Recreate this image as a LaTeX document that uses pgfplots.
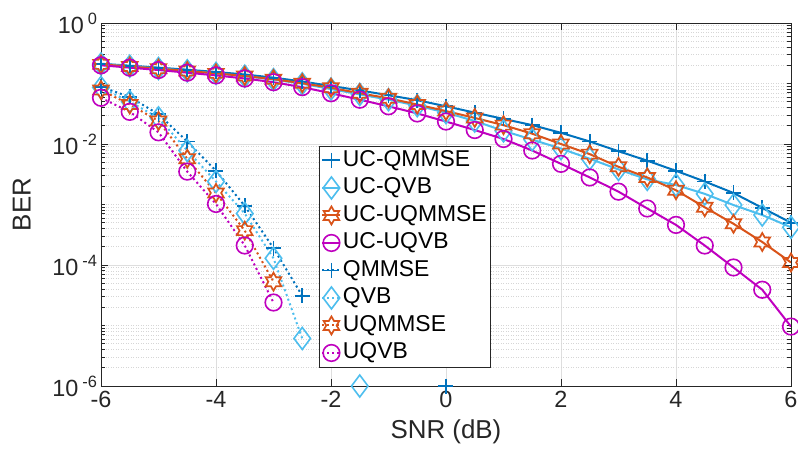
\documentclass[border=0pt]{standalone}
\usepackage{fontspec}
\setmainfont{Liberation Sans}
\usepackage{pgfplots}
\pgfplotsset{compat=1.18}
\definecolor{cQM}{rgb}{0,0.447,0.741}
\definecolor{cQV}{rgb}{0.302,0.745,0.933}
\definecolor{cUQM}{rgb}{0.85,0.325,0.098}
\definecolor{cUQV}{rgb}{0.75,0,0.75}
\definecolor{axgray}{rgb}{0.15,0.15,0.15}
\pgfdeclareplotmark{hexagram}{%
  \pgfpathmoveto{\pgfpointpolar{90}{\pgfplotmarksize}}%
  \pgfpathlineto{\pgfpointpolar{120}{0.577\pgfplotmarksize}}%
  \pgfpathlineto{\pgfpointpolar{150}{\pgfplotmarksize}}%
  \pgfpathlineto{\pgfpointpolar{180}{0.577\pgfplotmarksize}}%
  \pgfpathlineto{\pgfpointpolar{210}{\pgfplotmarksize}}%
  \pgfpathlineto{\pgfpointpolar{240}{0.577\pgfplotmarksize}}%
  \pgfpathlineto{\pgfpointpolar{270}{\pgfplotmarksize}}%
  \pgfpathlineto{\pgfpointpolar{300}{0.577\pgfplotmarksize}}%
  \pgfpathlineto{\pgfpointpolar{330}{\pgfplotmarksize}}%
  \pgfpathlineto{\pgfpointpolar{0}{0.577\pgfplotmarksize}}%
  \pgfpathlineto{\pgfpointpolar{30}{\pgfplotmarksize}}%
  \pgfpathlineto{\pgfpointpolar{60}{0.577\pgfplotmarksize}}%
  \pgfpathclose
  \pgfusepathqstroke
}
\pgfdeclareplotmark{tdiamond}{%
  \pgfpathmoveto{\pgfqpoint{0pt}{\pgfplotmarksize}}%
  \pgfpathlineto{\pgfqpoint{0.75\pgfplotmarksize}{0pt}}%
  \pgfpathlineto{\pgfqpoint{0pt}{-\pgfplotmarksize}}%
  \pgfpathlineto{\pgfqpoint{-0.75\pgfplotmarksize}{0pt}}%
  \pgfpathclose
  \pgfusepathqstroke
}
\pgfplotsset{
  solidc/.style={solid, line width=2bp},
  dotc/.style={line width=2bp, dash pattern=on 2bp off 3bp},
  mplus/.style={mark=+, mark size=7.5bp, mark options={solid, line width=1.8bp}},
  mdiam/.style={mark=tdiamond, mark size=11bp, mark options={solid, fill=none, line width=1.6bp}},
  mhex/.style={mark=hexagram, mark size=9bp, mark options={solid, fill=none, line width=1.7bp}},
  mcirc/.style={mark=o, mark size=8.3bp, mark options={solid, fill=none, line width=1.6bp}},
}
\begin{document}
\begin{tikzpicture}
\path[use as bounding box] (-101bp,-64bp) rectangle (697bp,386bp);
\begin{axis}[
  at={(0,0)}, anchor=south west,
  scale only axis, width=690bp, height=363bp,
  xmin=-6, xmax=6, ymin=1e-6, ymax=1,
  ymode=log,
  unbounded coords=jump,
  xtick={-6,-4,-2,0,2,4,6},
  xticklabels={-6,-4,-2,0,2,4,6},
  ytick={1e-6,1e-4,1e-2,1},
  yticklabels={10\,\textsuperscript{-6},10\,\textsuperscript{-4},10\,\textsuperscript{-2},10\,\textsuperscript{0}},
  minor ytick={2e-6,3e-6,4e-6,5e-6,6e-6,7e-6,8e-6,9e-6,1e-5,2e-5,3e-5,4e-5,5e-5,6e-5,7e-5,8e-5,9e-5,
    2e-4,3e-4,4e-4,5e-4,6e-4,7e-4,8e-4,9e-4,1e-3,2e-3,3e-3,4e-3,5e-3,6e-3,7e-3,8e-3,9e-3,
    2e-2,3e-2,4e-2,5e-2,6e-2,7e-2,8e-2,9e-2,1e-1,2e-1,3e-1,4e-1,5e-1,6e-1,7e-1,8e-1,9e-1},
  xmajorgrids, ymajorgrids, yminorgrids,
  major grid style={color=black!13, line width=0.7bp},
  minor grid style={color=black!16, line width=0.6bp, dash pattern=on 1bp off 1.5bp},
  tick align=inside,
  major tick length=7bp, minor tick length=4bp,
  every tick/.style={color=axgray, line width=0.8bp},
  axis line style={color=axgray, line width=0.8bp},
  ticklabel style={font=\fontsize{23.5}{25}\selectfont, color=axgray},
  xticklabel style={yshift=-2bp},
  xlabel={SNR (dB)}, ylabel={BER},
  label style={font=\fontsize{26}{28}\selectfont, color=axgray},
  xlabel style={yshift=-5bp},
  ylabel style={yshift=15bp},
  legend style={at={(0.316,0.661)}, anchor=north west,
    font=\fontsize{23}{26}\selectfont, draw=axgray, line width=0.8bp,
    inner xsep=2bp, inner ysep=2bp, row sep=3.5bp,
    nodes={inner sep=1.5bp, text height=16.5bp, text depth=4.5bp}},
  legend cell align=left,
  legend image code/.code={\draw[mark repeat=2,mark phase=2] plot coordinates {(-9bp,0bp)(0bp,0bp)(9bp,0bp)};},
]
\addplot[color=cQM, solidc, mplus] coordinates {
(-6,0.212)(-5.5,0.197)(-5,0.183)(-4.5,0.169)(-4,0.155)(-3.5,0.141)(-3,0.125)(-2.5,0.108)(-2,0.091)
(-1.5,0.077)(-1,0.064)(-0.5,0.053)(0,0.042)(0.5,0.033)(1,0.026)(1.5,0.0205)(2,0.0153)(2.5,0.011)
(3,0.0076)(3.5,0.0053)(4,0.0036)(4.5,0.0024)(5,0.00155)(5.5,0.00088)(6,0.00050)};
\addlegendentry{UC-QMMSE}
\addplot[color=cQV, solidc, mdiam] coordinates {
(-6,0.21)(-5.5,0.193)(-5,0.177)(-4.5,0.162)(-4,0.147)(-3.5,0.132)(-3,0.116)(-2.5,0.099)(-2,0.081)
(-1.5,0.066)(-1,0.054)(-0.5,0.043)(0,0.033)(0.5,0.024)(1,0.0165)(1.5,0.0118)(2,0.0084)(2.5,0.0057)
(3,0.0038)(3.5,0.0026)(4,0.0021)(4.5,0.0015)(5,0.00098)(5.5,0.00067)(6,0.00042)};
\addlegendentry{UC-QVB}
\addplot[color=cUQM, solidc, mhex] coordinates {
(-6,0.207)(-5.5,0.191)(-5,0.176)(-4.5,0.161)(-4,0.147)(-3.5,0.133)(-3,0.118)(-2.5,0.101)(-2,0.085)
(-1.5,0.069)(-1,0.057)(-0.5,0.045)(0,0.035)(0.5,0.027)(1,0.0205)(1.5,0.0148)(2,0.0100)(2.5,0.0068)
(3,0.0042)(3.5,0.0028)(4,0.00172)(4.5,0.00090)(5,0.00048)(5.5,0.00024)(6,0.00011)};
\addlegendentry{UC-UQMMSE}
\addplot[color=cUQV, solidc, mcirc] coordinates {
(-6,0.200)(-5.5,0.183)(-5,0.167)(-4.5,0.151)(-4,0.136)(-3.5,0.121)(-3,0.105)(-2.5,0.087)(-2,0.069)
(-1.5,0.054)(-1,0.042)(-0.5,0.032)(0,0.0235)(0.5,0.017)(1,0.0121)(1.5,0.0078)(2,0.0047)(2.5,0.0028)
(3,0.00163)(3.5,0.00086)(4,0.00046)(4.5,0.00021)(5,9.1e-5)(5.5,3.9e-5)(6,9.6e-6)};
\addlegendentry{UC-UQVB}
\addplot[color=cQM, dotc, mplus] coordinates {
(-6,0.088)(-5.5,0.060)(-5,0.031)(-4.5,0.011)(-4,0.0036)(-3.5,9.5e-4)(-3,1.9e-4)(-2.5,3.1e-5)
(-2,nan)(-1.5,nan)(-1,nan)(-0.5,nan)(0,1e-6)};
\addlegendentry{QMMSE}
\addplot[color=cQV, dotc, mdiam] coordinates {
(-6,0.086)(-5.5,0.050)(-5,0.027)(-4.5,0.0078)(-4,0.0024)(-3.5,7.1e-4)(-3,1.29e-4)(-2.5,6.1e-6)
(-2,nan)(-1.5,1e-6)};
\addlegendentry{QVB}
\addplot[color=cUQM, dotc, mhex] coordinates {
(-6,0.078)(-5.5,0.045)(-5,0.024)(-4.5,0.0057)(-4,0.00155)(-3.5,3.7e-4)(-3,5.3e-5)};
\addlegendentry{UQMMSE}
\addplot[color=cUQV, dotc, mcirc] coordinates {
(-6,0.058)(-5.5,0.034)(-5,0.0156)(-4.5,0.0035)(-4,0.00102)(-3.5,2.1e-4)(-3,2.4e-5)};
\addlegendentry{UQVB}
\end{axis}
\end{tikzpicture}
\end{document}
